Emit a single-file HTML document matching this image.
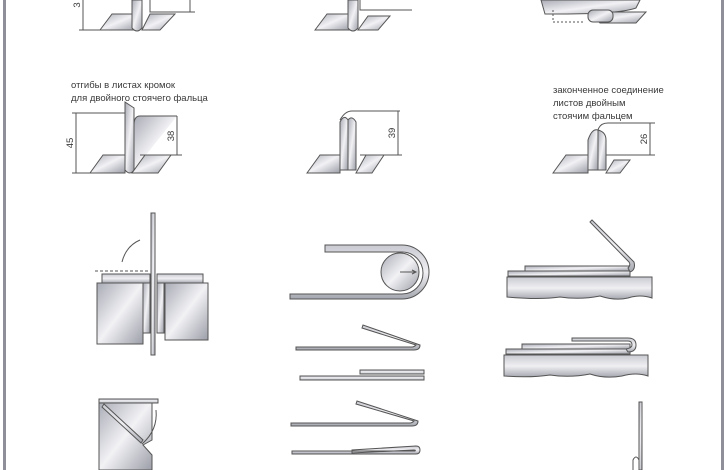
<!DOCTYPE html>
<html><head><meta charset="utf-8"><style>
html,body{margin:0;padding:0;background:#fff}
svg{display:block}
text{font-family:"Liberation Sans","DejaVu Sans",sans-serif;fill:#3a3a3a}
</style></head><body>
<svg width="726" height="470" viewBox="0 0 726 470" xmlns="http://www.w3.org/2000/svg">
<defs>
<linearGradient id="g" x1="0" y1="0" x2="1" y2="1">
<stop offset="0" stop-color="#a9abb5"/><stop offset="0.5" stop-color="#f2f2f5"/><stop offset="1" stop-color="#9c9ea8"/>
</linearGradient>
<linearGradient id="h" x1="0" y1="0" x2="0" y2="1">
<stop offset="0" stop-color="#c9cad2"/><stop offset="0.5" stop-color="#f0f0f3"/><stop offset="1" stop-color="#a5a7b0"/>
</linearGradient>
</defs>
<rect width="726" height="470" fill="#fff"/>
<rect x="3" y="0" width="3" height="470" fill="#8e8f99"/>
<rect x="721" y="0" width="3" height="470" fill="#8e8f99"/>
<g stroke="#555" stroke-width="1" fill="url(#g)">
<path d="M83 0V30 M79 30H100" fill="none"/>
<path d="M100 30L112 14H137V30Z"/>
<path d="M132 0V28Q137 34 142 28V0Z"/>
<path d="M142 30L150 14H175L160 30Z"/>
<path d="M150 0V12H195 M190 0V12" fill="none"/>
<path d="M315 30L327 14H350V30Z"/>
<path d="M348 0V28Q353 34 358 28V0Z"/>
<path d="M358 30L368 16H390L378 30Z"/>
<path d="M360 0V10H412" fill="none"/>
<path d="M541 0H640L636 8Q620 14 560 14H545Z"/>
<path d="M590 12H646L636 23H600Z"/>
<rect x="588" y="10" width="25" height="12" rx="5"/>
<path d="M553 10V22H585" fill="none" stroke-dasharray="2,2"/>
<path d="M76 113V173 M72 113H125 M72 173H92" fill="none"/>
<path d="M90 173L103 155H125V173Z"/>
<path d="M125 102L134 108V170Q130 176 125 170Z"/>
<path d="M134 170V125Q134 116 140 116H177"/>
<path d="M132 173L145 155H171L158 173Z"/>
<path d="M177 116V155 M140 155H182" fill="none"/>
<path d="M340 120Q345 111 352 111H400 M398 111V155 M360 155H402" fill="none"/>
<path d="M340 170V122Q344 114 348 120V170Z"/>
<path d="M348 120Q352 115 356 122V170H348Z"/>
<path d="M307 173L320 155H340V173Z"/>
<path d="M356 173L366 155H384L372 173Z"/>
<path d="M588 170V140Q592 128 598 130V170Z"/>
<path d="M598 130Q600 123 608 123H655 M650 123V155 M606 155H655" fill="none"/>
<path d="M598 130V170H606V140Q606 132 598 130Z"/>
<path d="M553 173L566 155H588V173Z"/>
<path d="M606 173L614 160H630L620 173Z"/>
<rect x="151" y="213" width="4" height="142"/>
<path d="M95 271H150" fill="none" stroke-dasharray="3,2"/>
<path d="M140 240Q126 246 122 262" fill="none"/>
<path d="M102 283V274H150V283Z" fill="url(#h)"/>
<path d="M157 283V274H203V283Z" fill="url(#h)"/>
<rect x="97" y="283" width="46" height="61"/>
<rect x="165" y="283" width="43" height="57"/>
<rect x="143" y="283" width="7" height="50"/>
<rect x="157" y="283" width="7" height="50"/>
<path d="M99 470V401H152V440L143 445L152 455V470Z"/>
<rect x="99" y="399" width="59" height="4" fill="url(#h)"/>
<path d="M104 404L143 440L141 443L102 407Z" fill="url(#h)"/>
<path d="M156 410Q158 430 142 444" fill="none"/>
<path d="M325 245H402A26 26 0 0 1 402 299H290V294H402A21 21 0 0 0 402 252H325Z" fill="url(#h)"/>
<circle cx="400" cy="272" r="19"/>
<path d="M400 272H416 M412 270L416 272L412 274" fill="none"/>
<path d="M296 350H414Q420 350 420 345L363 325L362 328L416 345Q414 347 412 347H296Z" fill="url(#h)"/>
<path d="M300 376H424V380H300Z" fill="url(#h)"/>
<path d="M360 370H424V374H360Z" fill="url(#h)"/>
<path d="M291 426H412Q418 426 418 421L357 401L356 404L414 421Q412 423 410 423H291Z" fill="url(#h)"/>
<path d="M292 454H416Q420 454 420 450Q420 446 416 446L352 450V453L414 450Q416 450 415 451H292Z" fill="url(#h)"/>
<path d="M507 277H652V298Q640 294 628 298Q615 301 600 296Q580 300 560 297Q540 300 507 297Z" fill="url(#h)"/>
<rect x="508" y="271" width="122" height="5"/>
<rect x="525" y="266" width="105" height="5"/>
<path d="M590 222L592 220L634 262Q636 270 630 272L628 268Q631 265 629 262Z" fill="url(#h)"/>
<path d="M504 355H648V376Q636 372 622 376Q605 379 590 374Q570 378 550 375Q530 378 504 376Z" fill="url(#h)"/>
<rect x="506" y="349" width="124" height="5"/>
<rect x="522" y="344" width="108" height="5"/>
<path d="M572 338H628Q636 338 636 345Q636 352 628 352L626 349Q632 348 632 345Q632 341 628 341H572Z" fill="url(#h)"/>
<rect x="639" y="402" width="3" height="68"/>
<path d="M633 470V460Q636 454 639 460" fill="none"/>
</g>
<g font-size="9.5">
<text x="71" y="88">отгибы в листах кромок</text>
<text x="71" y="101">для двойного стоячего фальца</text>
<text x="553" y="93">законченное соединение</text>
<text x="553" y="106">листов двойным</text>
<text x="553" y="119">стоячим фальцем</text>
<text transform="translate(73,143) rotate(-90)" text-anchor="middle">45</text>
<text transform="translate(174,136) rotate(-90)" text-anchor="middle">38</text>
<text transform="translate(395,133) rotate(-90)" text-anchor="middle">39</text>
<text transform="translate(647,139) rotate(-90)" text-anchor="middle">26</text>
<text transform="translate(80,5) rotate(-90)" text-anchor="middle">3</text>
</g>
</svg>
</body></html>
